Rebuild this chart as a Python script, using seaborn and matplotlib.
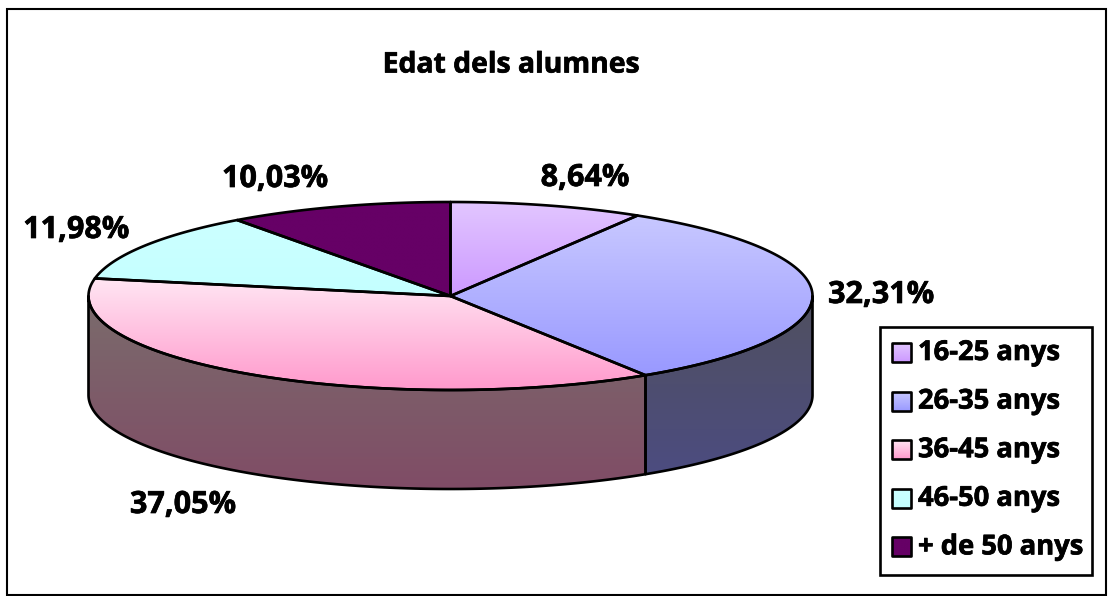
import numpy as np
import matplotlib
matplotlib.use("Agg")
import matplotlib.pyplot as plt
import matplotlib.patheffects as pe
import seaborn as sns
from matplotlib.patches import Polygon, Rectangle

# --- data ---
categories = ["16-25 anys", "26-35 anys", "36-45 anys", "46-50 anys", "+ de 50 anys"]
values = [8.64, 32.31, 37.05, 11.98, 10.03]
title = "Edat dels alumnes"

# --- colours (top / bottom of each gradient) ---
top_colors = [("#e2c6ff", "#cc99ff"), ("#c8c8ff", "#9999ff"), ("#ffe6f3", "#ff99cc"),
              ("#ccffff", "#c4ffff"), ("#660066", "#660066")]
side_colors = [("#66527f", "#66527f"), ("#50505f", "#4c4c80"), ("#7a6c6c", "#804c66"),
               ("#668080", "#668080"), ("#330033", "#330033")]

# --- layout, in pixels of the 1112x596 picture ---
cx, cy, rx, ry, depth = 450.5, 296, 362, 94, 99
label_pos = [(585, 178), (881, 295), (183, 505), (76, 230), (275, 179)]
LW = 1.9
FONT = "Open Sans"

sns.set_theme(style="white")
plt.rcParams["font.family"] = [FONT, "DejaVu Sans"]

fig = plt.figure(figsize=(11.12, 5.96), dpi=100)
ax = fig.add_axes([0, 0, 1, 1])
heavy = [pe.withStroke(linewidth=0.5, foreground="black")]


def rim(a0, a1):
    # points on the ellipse, angles clockwise from 12 o'clock
    t = np.radians(np.linspace(a0, a1, 200))
    return cx + rx * np.sin(t), cy - ry * np.cos(t)


def shaded(pts, colors):
    # polygon filled with a vertical gradient, then outlined
    cmap = sns.blend_palette(colors, as_cmap=True)
    x0, x1 = pts[:, 0].min(), pts[:, 0].max()
    y0, y1 = pts[:, 1].min(), pts[:, 1].max()
    img = ax.imshow(np.linspace(0, 1, 256).reshape(-1, 1), cmap=cmap, vmin=0, vmax=1,
                    extent=(x0, x1, y1, y0), aspect="auto", interpolation="bilinear")
    poly = Polygon(pts, closed=True, fc="none", ec="black", lw=LW, joinstyle="round")
    ax.add_patch(poly)
    img.set_clip_path(poly)


edges = np.concatenate([[0], np.cumsum(values)]) / np.sum(values) * 360

# sides first, only the part of each slice facing the viewer
for i in range(len(values)):
    a0, a1 = max(edges[i], 90), min(edges[i + 1], 270)
    if a1 <= a0:
        continue
    x, y = rim(a0, a1)
    pts = np.vstack([np.c_[x, y], np.c_[x[::-1], y[::-1] + depth]])
    shaded(pts, side_colors[i])

for i in range(len(values)):
    x, y = rim(edges[i], edges[i + 1])
    pts = np.vstack([[cx, cy], np.c_[x, y]])
    shaded(pts, top_colors[i])

# value labels
for v, (lx, ly) in zip(values, label_pos):
    ax.text(lx, ly, f"{v:.2f}%".replace(".", ","), ha="center", va="center",
            fontsize=22, fontweight="bold", color="black", path_effects=heavy)

ax.text(511.5, 65, title, ha="center", va="center", fontsize=20.4, fontweight="bold",
        color="black", path_effects=heavy)

# legend box
ax.add_patch(Rectangle((880, 327), 212, 248, fc="white", ec="black", lw=LW, zorder=3))
for i, name in enumerate(categories):
    sy = 343 + i * 48.6
    swatch = np.array([[892, sy], [911, sy], [911, sy + 19], [892, sy + 19]])
    shaded(swatch, top_colors[i])
    ax.images[-1].set_zorder(4)
    ax.patches[-1].set_zorder(5)
    ax.text(918, sy + 10, name, ha="left", va="center", fontsize=19.7, fontweight="bold",
            color="black", zorder=5, path_effects=heavy)

# chart frame
ax.add_patch(Rectangle((6.5, 8.5), 1099, 586, fc="none", ec="black", lw=1.5))

ax.set_xlim(0, 1112)
ax.set_ylim(596, 0)
ax.axis("off")
fig.savefig("out.png", dpi=100, facecolor="white")
